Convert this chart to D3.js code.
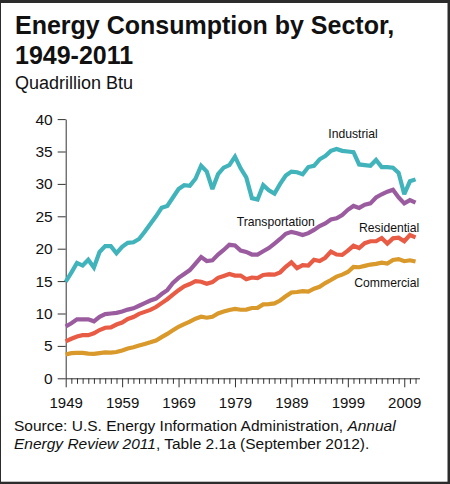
<!DOCTYPE html>
<html>
<head>
<meta charset="utf-8">
<script src="https://cdn.jsdelivr.net/npm/d3@7"></script>
<style>
  html, body { margin: 0; padding: 0; background: #2c2c2c; }
  svg { display: block; }
  text { font-family: "Liberation Sans", Arial, Helvetica, sans-serif; fill: #111; }
</style>
</head>
<body>
<svg id="chart" width="450" height="484"></svg>
<script>
// ---- Data (quadrillion Btu) ----
const years = d3.range(1949, 2012);
const industrial = [
  14.9,16.3,17.8,17.4,18.3,17.1,19.5,20.4,20.4,19.3,
  20.3,20.9,21.0,21.5,22.6,23.8,25.0,26.3,26.6,27.9,
  29.2,29.8,29.7,30.8,32.8,31.9,29.2,31.5,32.5,32.9,
  34.2,32.4,31.0,27.8,27.6,29.8,29.0,28.5,30.0,31.3,
  31.9,31.8,31.5,32.6,32.8,33.8,34.3,35.1,35.4,35.1,
  35.0,34.9,33.0,32.9,32.8,33.7,32.6,32.6,32.5,31.7,
  28.4,30.4,30.7];
const transportation = [
  8.0,8.5,9.1,9.1,9.1,8.8,9.5,9.9,10.0,10.1,
  10.3,10.6,10.8,11.2,11.6,12.0,12.3,13.0,13.6,14.7,
  15.5,16.1,16.7,17.7,18.7,18.1,18.2,19.1,19.8,20.6,
  20.5,19.7,19.5,19.1,19.1,19.6,20.1,20.8,21.5,22.3,
  22.6,22.4,22.1,22.4,22.9,23.5,23.9,24.5,24.7,25.2,
  26.0,26.6,26.3,26.8,27.0,27.9,28.4,28.8,29.1,27.9,
  27.0,27.5,27.1];
const residential = [
  5.7,6.1,6.45,6.65,6.65,6.95,7.45,7.8,7.85,8.3,
  8.6,9.15,9.45,9.95,10.25,10.55,11.0,11.6,12.2,12.9,
  13.6,14.2,14.55,15.0,14.9,14.6,14.85,15.5,15.8,16.1,
  15.85,15.85,15.3,15.55,15.45,15.95,16.05,16.0,16.35,17.2,
  17.9,17.0,17.45,17.4,18.3,18.1,18.6,19.55,19.1,19.05,
  19.7,20.45,20.1,20.85,21.15,21.15,21.65,20.8,21.6,21.7,
  21.15,22.1,21.75];
const commercial = [
  3.67,3.89,3.92,3.92,3.80,3.76,3.89,4.00,3.95,4.05,
  4.30,4.61,4.80,5.05,5.30,5.55,5.84,6.35,6.85,7.40,
  7.95,8.35,8.75,9.20,9.50,9.35,9.49,10.00,10.30,10.55,
  10.70,10.58,10.60,10.85,10.88,11.40,11.45,11.55,12.00,12.65,
  13.25,13.32,13.46,13.38,13.82,14.11,14.69,15.17,15.69,16.00,
  16.40,17.18,17.14,17.35,17.55,17.66,17.85,17.71,18.27,18.40,
  18.07,18.21,18.02];
const seriesNames = ["Commercial", "Residential", "Transportation", "Industrial"];
const yTicks = [0, 5, 10, 15, 20, 25, 30, 35, 40];
const xTickLabels = [1949, 1959, 1969, 1979, 1989, 1999, 2009];

// ---- Setup ----
const svg = d3.select("#chart");
svg.append("rect").attr("x", 1).attr("y", 3).attr("width", 446.5).attr("height", 478.7).attr("fill", "#fff");

const x = d3.scaleLinear().domain([1949, 2011.7]).range([65.7, 419.5]);
const y = d3.scaleLinear().domain([0, 40]).range([378.3, 119.1]);

// Title
svg.append("text").attr("x", 15).attr("y", 33.5)
  .style("font-size", "25px").style("font-weight", "bold")
  .text("Energy Consumption by Sector,");
svg.append("text").attr("x", 15).attr("y", 63.5)
  .style("font-size", "25px").style("font-weight", "bold")
  .text("1949-2011");
svg.append("text").attr("x", 15).attr("y", 89.3)
  .style("font-size", "18px")
  .text("Quadrillion Btu");

// Y axis
const yAxis = svg.append("g").attr("transform", `translate(${x(1949)},0)`)
  .call(d3.axisLeft(y).tickValues(yTicks).tickSize(8).tickPadding(5).tickSizeOuter(0));
yAxis.selectAll("text").style("font-size", "15.5px").attr("fill", "#111")
  .style("font-family", '"Liberation Sans", Arial, sans-serif');
yAxis.selectAll("line, path").attr("stroke", "#333");

// X axis
const xAxis = svg.append("g").attr("transform", `translate(0,${y(0)})`)
  .call(d3.axisBottom(x).tickValues(years)
    .tickFormat(d => xTickLabels.includes(d) ? String(d) : "")
    .tickSizeOuter(0));
xAxis.selectAll(".tick line").attr("y2", d => xTickLabels.includes(d) ? 9 : 5.5).attr("stroke", "#333");
xAxis.select(".domain").attr("stroke", "#333");
xAxis.selectAll("text").attr("y", 18.6).style("font-size", "15px").attr("fill", "#111")
  .style("font-family", '"Liberation Sans", Arial, sans-serif');

// Lines
const seriesData = {
  Commercial: commercial,
  Residential: residential,
  Transportation: transportation,
  Industrial: industrial
};
const colors = {
  Commercial: "#d9992b",
  Residential: "#e85b45",
  Transportation: "#9a5c9e",
  Industrial: "#41b3bb"
};
const line = d3.line().x((d, i) => x(years[i])).y(d => y(d));
seriesNames.forEach(name => {
  svg.append("path").datum(seriesData[name])
    .attr("d", line)
    .attr("fill", "none")
    .attr("stroke", colors[name])
    .attr("stroke-width", 4.2)
    .attr("stroke-linejoin", "miter")
    .attr("stroke-miterlimit", 3);
});

// Series labels
const labels = [
  { t: "Industrial", x: 328.3, y: 137.7, a: "start" },
  { t: "Transportation", x: 236.7, y: 225.7, a: "start" },
  { t: "Residential", x: 419.3, y: 231.7, a: "end" },
  { t: "Commercial", x: 419.3, y: 287, a: "end" }
];
labels.forEach(l => {
  svg.append("text").attr("x", l.x).attr("y", l.y).attr("text-anchor", l.a)
    .style("font-size", "12.2px").text(l.t);
});

// Source
const s1 = svg.append("text").attr("x", 14).attr("y", 431.3).style("font-size", "15.5px");
s1.append("tspan").text("Source: U.S. Energy Information Administration, ");
s1.append("tspan").style("font-style", "italic").text("Annual");
const s2 = svg.append("text").attr("x", 14).attr("y", 449.4).style("font-size", "15.5px");
s2.append("tspan").style("font-style", "italic").text("Energy Review 2011");
s2.append("tspan").text(", Table 2.1a (September 2012).");
</script>
</body>
</html>
